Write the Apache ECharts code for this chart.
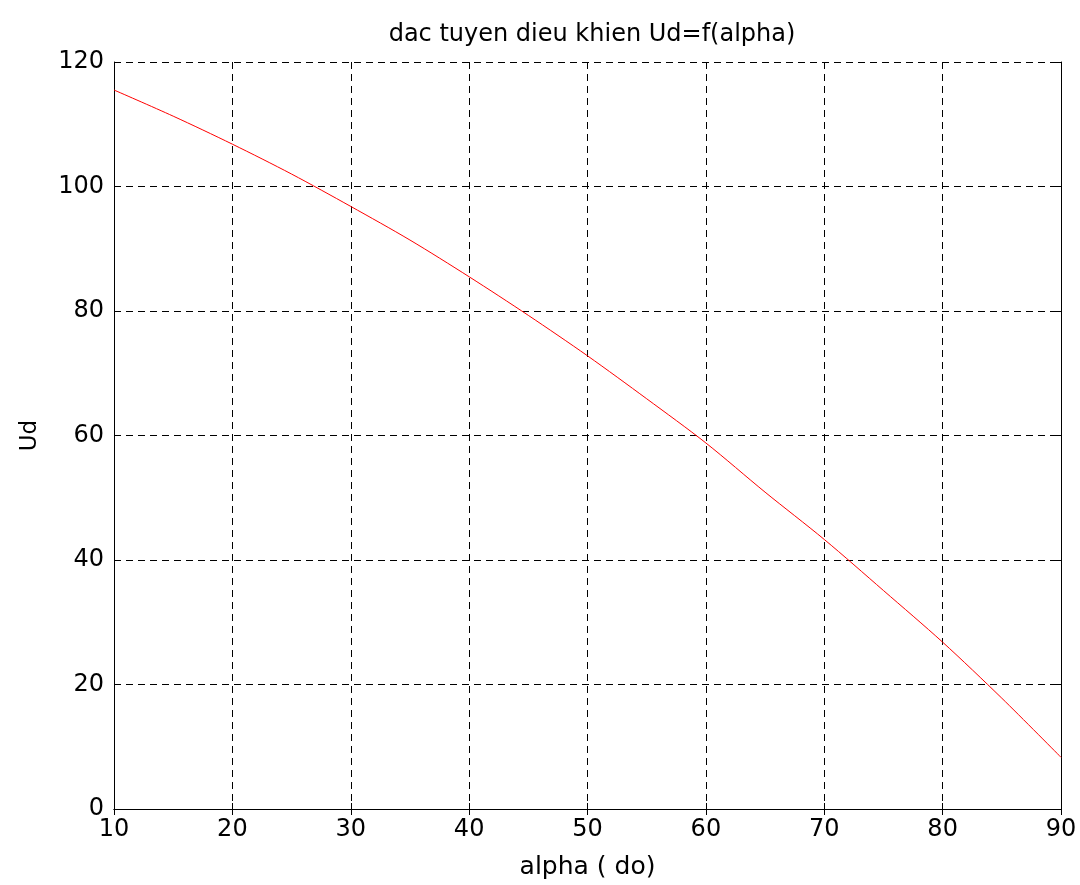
<!DOCTYPE html>
<html>
<head>
<meta charset="utf-8">
<script src="https://cdn.jsdelivr.net/npm/echarts@6/dist/echarts.min.js"></script>
<style>
  html, body { margin: 0; padding: 0; background: #fff; }
  #chart { width: 1080px; height: 885px; }
</style>
</head>
<body>
<div id="chart"></div>
<script>
// Control characteristic: rectified voltage Ud versus firing angle alpha (degrees)
const alphaDeg = [10, 15, 20, 25, 30, 35, 40, 45, 50, 55, 60, 65, 70, 75, 80, 85, 90];
const udValues = [115.5, 111.3, 106.8, 102.0, 96.8, 91.4, 85.5, 79.3, 72.8, 65.9, 58.8, 50.9, 43.3, 35.1, 26.8, 17.8, 8.3];
const xTicks = [10, 20, 30, 40, 50, 60, 70, 80, 90];
const yTicks = [0, 20, 40, 60, 80, 100, 120];

const points = alphaDeg.map((a, i) => [a, udValues[i]]);

const FONT = '"DejaVu Sans", "Liberation Sans", Arial, sans-serif';
const gridLine = { show: true, lineStyle: { color: '#000', type: [7, 5], width: 1 } };
const tickIn = { show: true, inside: true, length: 6, lineStyle: { color: '#000', width: 1 } };
const axisLn = { show: true, lineStyle: { color: '#000', width: 1 } };

const chart = echarts.init(document.getElementById('chart'), null, { renderer: 'canvas' });
chart.setOption({
  backgroundColor: '#fff',
  animation: false,
  title: {
    text: 'dac tuyen dieu khien Ud=f(alpha)',
    left: 587, top: 18, textAlign: 'center',
    textStyle: { fontFamily: FONT, fontSize: 24, fontWeight: 'normal', color: '#000' }
  },
  grid: { left: 114, right: 19, top: 62, bottom: 76, containLabel: false },
  xAxis: [
    {
      type: 'value', min: 10, max: 90, interval: 10, position: 'bottom',
      name: 'alpha ( do)', nameLocation: 'middle', nameGap: 46,
      nameTextStyle: { fontFamily: FONT, fontSize: 25, color: '#000' },
      axisLine: axisLn, axisTick: tickIn, splitLine: gridLine,
      axisLabel: {
        fontFamily: FONT, fontSize: 24, color: '#000', margin: 9,
        formatter: v => xTicks.includes(v) ? String(v) : ''
      }
    },
    {
      type: 'value', min: 10, max: 90, interval: 10, position: 'top',
      axisLine: axisLn, axisTick: tickIn, axisLabel: { show: false }, splitLine: { show: false }
    }
  ],
  yAxis: [
    {
      type: 'value', min: 0, max: 120, interval: 20, position: 'left',
      name: 'Ud', nameLocation: 'middle', nameGap: 72, nameRotate: 90,
      nameTextStyle: { fontFamily: FONT, fontSize: 23, color: '#000' },
      axisLine: axisLn, axisTick: tickIn, splitLine: gridLine,
      axisLabel: {
        fontFamily: FONT, fontSize: 24, color: '#000', margin: 10,
        formatter: v => yTicks.includes(v) ? String(v) : ''
      }
    },
    {
      type: 'value', min: 0, max: 120, interval: 20, position: 'right',
      axisLine: axisLn, axisTick: tickIn, axisLabel: { show: false }, splitLine: { show: false }
    }
  ],
  series: [{
    type: 'line',
    data: points,
    xAxisIndex: 0, yAxisIndex: 0,
    showSymbol: false,
    smooth: 0.3,
    lineStyle: { color: '#ff0000', width: 1 },
    z: 5
  }]
});
</script>
</body>
</html>
